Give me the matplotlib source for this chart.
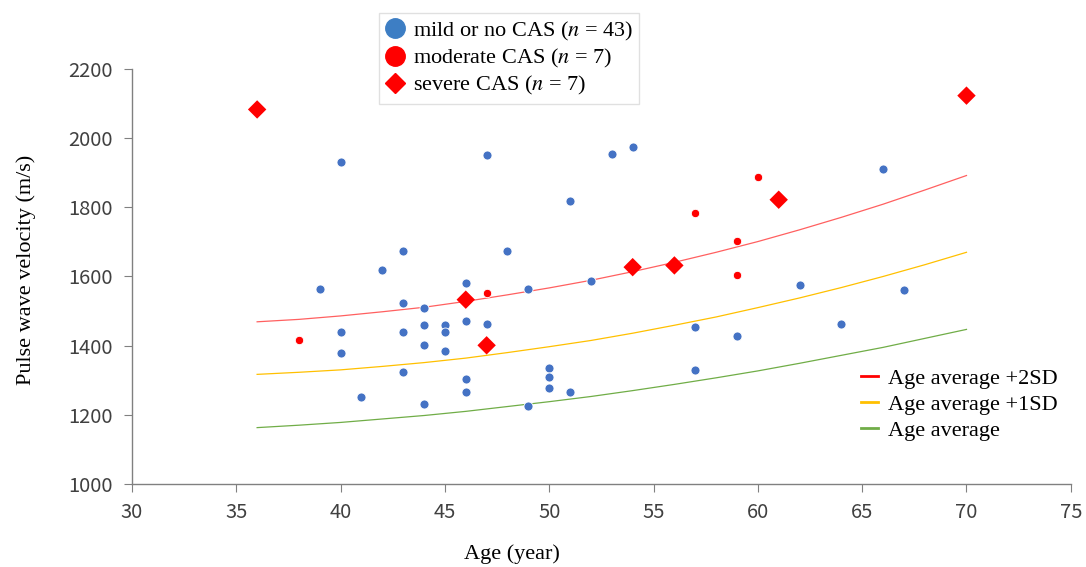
import matplotlib
matplotlib.use("Agg")
from matplotlib import pyplot as plt
from matplotlib.lines import Line2D

# mild or no CAS
mild_age = [39, 40, 40, 40, 41, 42, 43, 43, 43, 43, 44, 44, 44, 44, 45, 45, 45,
            46, 46, 46, 46, 47, 47, 48, 49, 49, 50, 50, 50, 51, 51, 52, 53, 54,
            57, 57, 59, 62, 64, 66, 67]
mild_pwv = [1563, 1930, 1439, 1380, 1252, 1618, 1675, 1524, 1440, 1325, 1510, 1461,
            1401, 1230, 1461, 1439, 1385, 1580, 1471, 1303, 1267, 1950, 1463, 1675,
            1563, 1226, 1335, 1309, 1279, 1818, 1266, 1588, 1953, 1975, 1454, 1329,
            1427, 1575, 1462, 1910, 1561]

# moderate CAS
mod_age = [38, 47, 57, 59, 59, 60]
mod_pwv = [1417, 1553, 1783, 1702, 1603, 1887]

# severe CAS
sev_age = [36, 46, 47, 54, 56, 61, 70]
sev_pwv = [2083, 1533, 1401, 1627, 1632, 1822, 2123]

# reference curves
curve_age = [36, 38, 40, 42, 44, 46, 48, 50, 52, 54, 56, 58, 60, 62, 64, 66, 68, 70]
avg_2sd = [1469, 1476, 1486, 1498, 1511, 1528, 1547, 1567, 1589, 1614, 1641, 1670,
           1701, 1735, 1771, 1809, 1850, 1892]
avg_1sd = [1317, 1323, 1330, 1340, 1351, 1364, 1380, 1397, 1415, 1436, 1459, 1483,
           1510, 1538, 1568, 1600, 1634, 1670]
avg = [1163, 1170, 1178, 1188, 1198, 1210, 1224, 1238, 1253, 1270, 1288, 1307,
       1327, 1349, 1372, 1395, 1421, 1447]

x_ticks = [30, 35, 40, 45, 50, 55, 60, 65, 70, 75]
y_ticks = [1000, 1200, 1400, 1600, 1800, 2000, 2200]

blue = '#4472C4'
red = '#FF0000'
serif = 'Liberation Serif'
tick_font = ['Noto Sans CJK JP', 'DejaVu Sans']
plt.rcParams['mathtext.fontset'] = 'stix'

fig = plt.figure(figsize=(10.86, 5.67), dpi=100)
ax = fig.add_axes([0.1215, 0.1464, 0.8645, 0.7319])

ax.plot(curve_age, avg_2sd, color='#FF6060', lw=0.9)
ax.plot(curve_age, avg_1sd, color='#FFC000', lw=0.9)
ax.plot(curve_age, avg, color='#70AD47', lw=0.9)

ax.scatter(mild_age, mild_pwv, s=42, color=blue, edgecolors='white', linewidths=0.6, zorder=3)
ax.scatter(mod_age, mod_pwv, s=36, color=red, edgecolors='white', linewidths=0.6, zorder=3)
ax.scatter(sev_age, sev_pwv, s=88, marker='D', color=red, edgecolors='none', zorder=3)

ax.set_xlim(30, 75)
ax.set_ylim(1000, 2200)
ax.set_xticks(x_ticks)
ax.set_yticks(y_ticks)
for s in ['top', 'right']:
    ax.spines[s].set_visible(False)
for s in ['left', 'bottom']:
    ax.spines[s].set_color('#808080')
    ax.spines[s].set_linewidth(1.0)
ax.tick_params(direction='out', length=6, color='#808080', labelcolor='#404040',
               labelsize=14.5)
ax.tick_params(axis='x', pad=7)
ax.tick_params(axis='y', pad=8)
for lab in ax.get_xticklabels() + ax.get_yticklabels():
    lab.set_family(tick_font)

ax.set_xlabel('Age (year)', family=serif, fontsize=16)
ax.set_ylabel('Pulse wave velocity (m/s)', family=serif, fontsize=16)
ax.xaxis.set_label_coords(0.405, -0.145)
ax.yaxis.set_label_coords(-0.102, 0.516)

handles = [
    Line2D([], [], marker='o', ls='', color='#3D7EC4', markersize=14),
    Line2D([], [], marker='o', ls='', color=red, markersize=14),
    Line2D([], [], marker='D', ls='', color=red, markersize=10.5),
]
labels = ['mild or no CAS ($n$ = 43)', 'moderate CAS ($n$ = 7)', 'severe CAS ($n$ = 7)']
leg1 = fig.legend(handles, labels, loc='upper left', bbox_to_anchor=(0.339, 0.997),
                  prop={'family': serif, 'size': 16}, frameon=True, fancybox=False,
                  edgecolor='#D9D9D9', handlelength=0.8, handletextpad=0.4,
                  labelspacing=0.2, borderpad=0.3)
leg1.get_frame().set_linewidth(1.0)

line_handles = [Line2D([], [], color=red, lw=2),
                Line2D([], [], color='#FFC000', lw=2),
                Line2D([], [], color='#70AD47', lw=2)]
line_labels = ['Age average +2SD', 'Age average +1SD', 'Age average']
fig.legend(line_handles, line_labels, loc='upper left', bbox_to_anchor=(0.774, 0.385),
           prop={'family': serif, 'size': 16}, frameon=False, handlelength=0.8,
           handletextpad=0.45, labelspacing=0.24)

fig.savefig('out.png', dpi=100)
